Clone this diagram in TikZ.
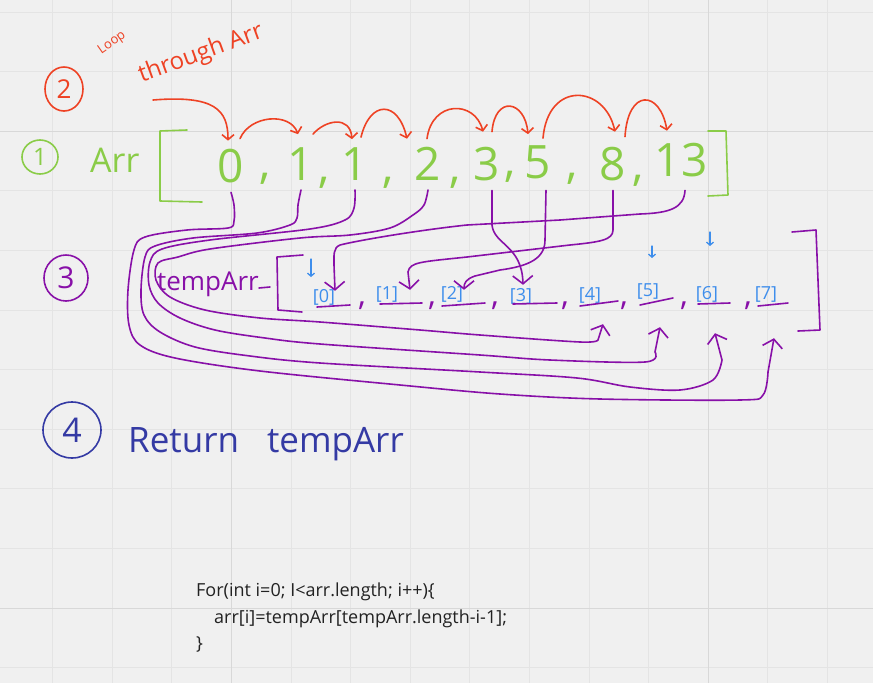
\documentclass[tikz,border=0pt]{standalone}
\usepackage{fontspec}
\setmainfont{Open Sans}
\usetikzlibrary{arrows.meta,shapes.geometric,calc}
\definecolor{bgc}{RGB}{240,240,240}
\definecolor{gridc}{RGB}{228,228,228}
\definecolor{gridd}{RGB}{216,216,216}
\definecolor{hgreen}{RGB}{138,204,72}
\definecolor{hred}{RGB}{238,66,36}
\definecolor{hpurple}{RGB}{136,16,168}
\definecolor{hblue}{RGB}{62,142,236}
\definecolor{hnavy}{RGB}{52,58,164}
\definecolor{codec}{RGB}{34,34,34}
\newcommand{\fsz}[1]{\fontsize{#1}{#1}\selectfont}
\begin{document}
\begin{tikzpicture}[x=1pt,y=-1pt,
  hand/.style={line width=1.6pt, line cap=round, line join=round},
  gline/.style={hand, draw=hgreen},
  pline/.style={hand, draw=hpurple},
  rarr/.style={hand, draw=hred, -{Straight Barb[length=5pt,width=12pt]}},
  parr/.style={hand, draw=hpurple, -{Straight Barb[length=8pt,width=20pt]}},
  barr/.style={line width=1.3pt, draw=hblue, line cap=round, -{Straight Barb[length=3pt,width=7pt]}},
  num/.style={text=hgreen, font=\fsz{46}, inner sep=0pt, outer ysep=10pt, anchor=base},
  gcomma/.style={text=hgreen, font=\fsz{46}, inner sep=0pt, anchor=base},
  slot/.style={text=hblue, font=\fsz{18}, inner sep=0pt, minimum width=24pt, minimum height=22pt},
  pcomma/.style={text=hpurple, font=\fsz{32}, inner sep=0pt, anchor=base},
  circ/.style={ellipse, line width=1.6pt, inner sep=0pt}
]
\useasboundingbox (0,0) rectangle (873,683);
\fill[bgc] (0,0) rectangle (873,683);
% grid
\foreach \i in {0,...,13} {\draw[gridc, line width=0.8pt] ({52.5+59.6*\i},0) -- ({52.5+59.6*\i},683);}
\foreach \j in {0,...,11} {\draw[gridc, line width=0.8pt] (0,{12+59.6*\j}) -- (873,{12+59.6*\j});}
\foreach \i in {3,11} {\draw[gridd, line width=0.8pt] ({52.5+59.6*\i},0) -- ({52.5+59.6*\i},683);}
\foreach \j in {2,10} {\draw[gridd, line width=0.8pt] (0,{12+59.6*\j}) -- (873,{12+59.6*\j});}

% step labels
\node[circ, draw=hred, text=hred, minimum width=38pt, minimum height=44pt, font=\fsz{26}] (c2) at (64,89) {2};
\node[text=hred, font=\fsz{13}, rotate=35, inner sep=0pt] (loopt) at (112,43) {Loop};
\node[text=hred, font=\fsz{24}, rotate=20, inner sep=0pt] (thr) at (201,54) {through Arr};
\node[circ, draw=hgreen, text=hgreen, minimum width=36pt, minimum height=34pt, font=\fsz{24}] (c1) at (40,157) {1};
\node[text=hgreen, font=\fsz{34}, anchor=base west, inner sep=0pt] (arrl) at (90,172) {Arr};
\node[circ, draw=hpurple, text=hpurple, minimum width=44pt, minimum height=46pt, font=\fsz{30}] (c3) at (66,278) {3};
\node[text=hpurple, font=\fsz{26}, anchor=base west, inner sep=0pt] (tmp) at (157,290) {tempArr};
\draw[pline] (259,288) -- (270,287);
\node[circ, draw=hnavy, text=hnavy, minimum width=58pt, minimum height=56pt, font=\fsz{34}] (c4) at (72,430) {4};
\node[text=hnavy, font=\fsz{35}, anchor=base west, inner sep=0pt] (ret) at (128,452) {Return\hspace{28pt}tempArr};

% Arr
\draw[gline] (187,130) -- (160,131) -- (160,201) -- (202,202);
\draw[gline] (708,131) -- (726,131) -- (728,195) -- (708,196);
\node[num] (e0) at (231,182) {0};
\node[num] (e1) at (301,180) {1};
\node[num] (e2) at (355,180) {1};
\node[num] (e3) at (428,180) {2};
\node[num] (e4) at (487,180) {3};
\node[num] (e5) at (538,178) {5};
\node[num] (e6) at (613,180) {8};
\node[num] (e7) at (681,176) {13};
\node[gcomma] (k0) at (265,178) {,};
\node[gcomma] (k1) at (324,182) {,};
\node[gcomma] (k2) at (388,182) {,};
\node[gcomma] (k3) at (455,182) {,};
\node[gcomma] (k4) at (510,176) {,};
\node[gcomma] (k5) at (572,178) {,};
\node[gcomma] (k6) at (638,180) {,};

% tempArr
\draw[pline] (303,255) -- (277,257) -- (278,310) -- (302,312);
\draw[pline] (792,232) -- (816,230) -- (820,330) -- (798,331);
\node[slot] (s0) at (324,297) {[0]};
\node[slot] (s1) at (387,294) {[1]};
\node[slot] (s2) at (452,294) {[2]};
\node[slot] (s3) at (521,296) {[3]};
\node[slot] (s4) at (590,295) {[4]};
\node[slot] (s5) at (648,291) {[5]};
\node[slot] (s6) at (707,294) {[6]};
\node[slot] (s7) at (766,294) {[7]};
\draw[pline] (317,307) -- (350,305);
\draw[pline] (380,304) -- (422,303);
\draw[pline] (442,306) -- (485,303);
\draw[pline] (513,304) -- (557,303);
\draw[pline] (580,306) -- (618,301);
\draw[pline] (640,305) -- (673,298);
\draw[pline] (698,304) -- (730,303);
\draw[pline] (758,306) -- (788,303);
\node[pcomma] (q0) at (362,305) {,};
\node[pcomma] (q1) at (432,305) {,};
\node[pcomma] (q2) at (495,305) {,};
\node[pcomma] (q3) at (565,305) {,};
\node[pcomma] (q4) at (624,305) {,};
\node[pcomma] (q5) at (684,305) {,};
\node[pcomma] (q6) at (748,305) {,};

% blue small arrows
\coordinate (b1a) at (311,259); \coordinate (b1b) at (311,277);
\coordinate (b2a) at (652,246); \coordinate (b2b) at (652,258);
\coordinate (b3a) at (710,232); \coordinate (b3b) at (710,246);
\draw[barr] (b1a) -- (b1b);
\draw[barr] (b2a) -- (b2b);
\draw[barr] (b3a) -- (b3b);

% red loop arrows
\coordinate (rs) at (153,100);
\draw[rarr] (rs) .. controls (215,95) and (228,110) .. ($(e0.north)+(-3,2)$);
\draw[rarr] ($(e0.north)+(9,0)$) .. controls (250,115) and (290,112) .. ($(e1.north)+(-3,-3)$);
\draw[rarr] ($(e1.north)+(12,-3)$) .. controls (325,120) and (350,115) .. ($(e2.north)+(-3,2)$);
\draw[rarr] ($(e2.north)+(6,0)$) .. controls (370,100) and (398,100) .. ($(e3.north)+(-21,2)$);
\draw[rarr] ($(e3.north)+(-1,2)$) .. controls (432,100) and (475,100) .. ($(e4.north)+(-4,-5)$);
\draw[rarr] ($(e4.north)+(5,-5)$) .. controls (495,95) and (525,100) .. ($(e5.north)+(-10,-1)$);
\draw[rarr] ($(e5.north)+(5,3)$) .. controls (548,80) and (605,85) .. ($(e6.north)+(2,-5)$);
\draw[rarr] ($(e6.north)+(12,0)$) .. controls (628,88) and (660,90) .. ($(e7.north)+(-14,-2)$);

% purple copy connectors (reverse order)
\draw[parr] plot[smooth, tension=0.55] coordinates {(e0.south) (234,205) (234,221) (228,228) (187,230) (145,237) (134,250) (128,290) (129,325) (140,345) (175,358) (260,371) (400,385) (500,394) (600,399) (740,400) (763,395) (768,372)} -- ($(s7.south)+(8,33)$);
\draw[parr] plot[smooth, tension=0.55] coordinates {(e1.south) (298,205) (297,218) (290,225) (257,233) (193,238) (155,246) (145,257) (141,290) (144,315) (160,332) (195,347) (250,356) (320,363) (480,372) (577,378) (630,387) (680,390) (713,380) (722,360)} -- ($(s6.south)+(8,28)$);
\draw[parr] plot[smooth, tension=0.55] coordinates {(e2.south) (354,208) (345,220) (310,229) (210,240) (162,249) (150,262) (149,285) (158,303) (180,318) (215,330) (265,338) (320,344) (480,355) (550,360) (645,362) (655,352)} -- ($(s5.south)+(12,25)$);
\draw[parr] plot[smooth, tension=0.55] coordinates {(e3.south) (424,205) (413,215) (390,228) (350,235) (300,238) (210,249) (178,257) (158,263) (156,280) (170,297) (205,310) (260,318) (320,322) (420,330) (480,335) (580,342) (598,340)} -- ($(s4.south)+(13,18)$);
\draw[parr] ($(e4.south)+(5,0)$) -- (492,225) .. controls (494,245) and (522,245) .. ($(s3.north)+(2,0)$);
\draw[parr] ($(e5.south)+(8,2)$) -- (545,240) .. controls (545,258) and (530,266) .. (500,270) -- (475,276) .. controls (466,279) and (464,283) .. ($(s2.north)+(12,7)$);
\draw[parr] (e6.south) -- (613,230) .. controls (613,240) and (600,242) .. (570,245) -- (467,257) .. controls (420,262) and (410,262) .. (408,272) -- ($(s1.north)+(23,7)$);
\draw[parr] ($(e7.south)+(4,4)$) .. controls (684,208) and (670,213) .. (640,214) -- (560,220) -- (467,225) .. controls (420,230) and (360,240) .. (340,245) .. controls (333,248) and (334,255) .. (334,265) -- ($(s0.north)+(11,5)$);

% code
\node[anchor=north west, inner sep=0pt, align=left, text=codec, font=\fontsize{18}{26.5}\selectfont] (code) at (196,583) {For(int i=0; I<arr.length; i++)\{\\\hspace*{18pt}arr[i]=tempArr[tempArr.length-i-1];\\\}};
\end{tikzpicture}
\end{document}
